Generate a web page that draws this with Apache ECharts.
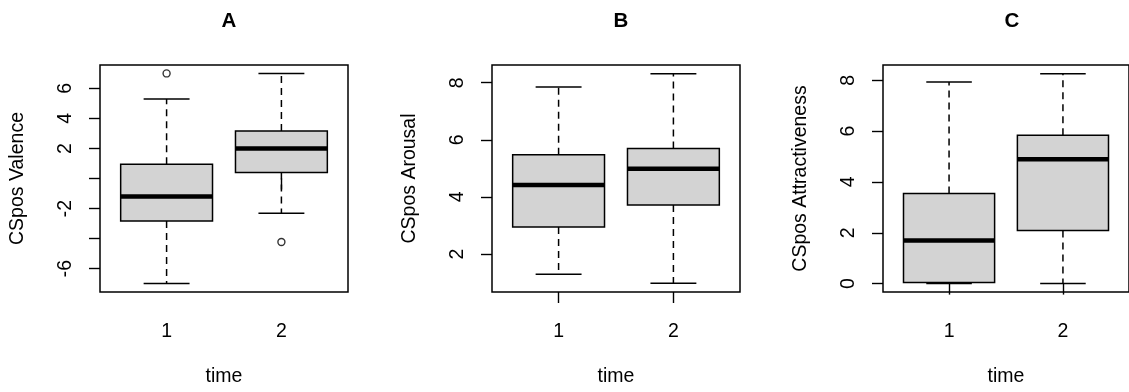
<!DOCTYPE html>
<html>
<head>
<meta charset="utf-8">
<script src="https://cdn.jsdelivr.net/npm/echarts@6/dist/echarts.min.js"></script>
<style>
html,body{margin:0;padding:0;background:#fff;}
#chart{width:1129px;height:392px;}
</style>
</head>
<body>
<div id="chart"></div>
<script>
// ---- data ----
const panelTitles = ['A', 'B', 'C'];
const xCategories = [1, 2];
const xLabel = 'time';
const yNames = ['CSpos Valence', 'CSpos Arousal', 'CSpos Attractiveness'];
// [min whisker, Q1, median, Q3, max whisker]
const valenceStats = [[-7.0, -2.83, -1.2, 0.95, 5.29], [-2.31, 0.4, 2.0, 3.17, 7.0]];
const valenceOutliers = [[1, 7.0], [2, -4.23]];
const arousalStats = [[1.29, 2.95, 4.42, 5.48, 7.85], [0.98, 3.72, 4.99, 5.70, 8.31]];
const arousalOutliers = [];
const attractStats = [[0.0, 0.04, 1.70, 3.54, 7.93], [0.0, 2.09, 4.89, 5.84, 8.26]];
const attractOutliers = [];
const valenceTicks = [-6, -4, -2, 0, 2, 4, 6];
const valenceTickLabels = [-6, -2, 2, 4, 6];
const arousalTicks = [2, 4, 6, 8];
const attractTicks = [0, 2, 4, 6, 8];

// ---- layout ----
const FONT = 'Liberation Sans, Arial, sans-serif';
const panels = [
  { left: 100, yMin: -7.56, yMax: 7.56, stats: valenceStats, outliers: valenceOutliers, ticks: valenceTicks, labels: valenceTickLabels },
  { left: 492, yMin: 0.67, yMax: 8.62, stats: arousalStats, outliers: arousalOutliers, ticks: arousalTicks, labels: arousalTicks },
  { left: 883, yMin: -0.33, yMax: 8.60, stats: attractStats, outliers: attractOutliers, ticks: attractTicks, labels: attractTicks }
];
const GRID_W = 248, GRID_TOP = 65, GRID_H = 228;
const FS = 19.5;

const grids = [], xAxes = [], yAxes = [], series = [], titles = [];
panels.forEach((p, i) => {
  grids.push({ left: p.left, top: GRID_TOP, width: GRID_W, height: GRID_H, show: true,
    borderColor: '#000', borderWidth: 1.5, backgroundColor: '#fff', containLabel: false });
  titles.push({ text: panelTitles[i], left: p.left + GRID_W / 2, top: 6, textAlign: 'center',
    textStyle: { fontFamily: FONT, fontWeight: 'bold', fontSize: 20.5, color: '#000' } });
  xAxes.push({ type: 'value', gridIndex: i, min: 0.42, max: 2.58,
    name: xLabel, nameLocation: 'middle', nameGap: 75,
    nameTextStyle: { fontFamily: FONT, fontSize: FS, color: '#000' },
    axisLine: { show: false }, splitLine: { show: false },
    axisTick: { show: true, length: 11, customValues: xCategories, lineStyle: { color: '#000', width: 1.4 } },
    axisLabel: { customValues: xCategories, margin: 30, fontFamily: FONT, fontSize: FS, color: '#000',
      formatter: v => String(v) } });
  yAxes.push({ type: 'value', gridIndex: i, min: p.yMin, max: p.yMax,
    name: yNames[i], nameLocation: 'middle', nameGap: 72, nameRotate: 90,
    nameTextStyle: { fontFamily: FONT, fontSize: FS, color: '#000' },
    axisLine: { show: false }, splitLine: { show: false },
    axisTick: { show: true, length: 11, customValues: p.ticks, lineStyle: { color: '#000', width: 1.4 } },
    axisLabel: { customValues: p.labels, rotate: 90, margin: 24, fontFamily: FONT, fontSize: FS, color: '#000',
      formatter: v => String(v) } });
  series.push({
    type: 'custom', xAxisIndex: i, yAxisIndex: i,
    encode: { x: 0, y: [1, 2, 3, 4, 5] },
    data: p.stats.map((s, k) => [xCategories[k]].concat(s)),
    renderItem: function (params, api) {
      const x = api.value(0);
      const lo = api.coord([x, api.value(1)]);
      const q1 = api.coord([x, api.value(2)]);
      const md = api.coord([x, api.value(3)]);
      const q3 = api.coord([x, api.value(4)]);
      const hi = api.coord([x, api.value(5)]);
      const half = api.size([0.8, 0])[0] / 2;
      const sh = half / 2;
      const cx = md[0];
      const dash = { stroke: '#000', lineWidth: 1.5, lineDash: [7, 5] };
      const solid = { stroke: '#000', lineWidth: 1.5 };
      return { type: 'group', children: [
        { type: 'line', shape: { x1: cx, y1: q1[1], x2: cx, y2: lo[1] }, style: dash },
        { type: 'line', shape: { x1: cx, y1: q3[1], x2: cx, y2: hi[1] }, style: dash },
        { type: 'line', shape: { x1: cx - sh, y1: lo[1], x2: cx + sh, y2: lo[1] }, style: solid },
        { type: 'line', shape: { x1: cx - sh, y1: hi[1], x2: cx + sh, y2: hi[1] }, style: solid },
        { type: 'rect', shape: { x: cx - half, y: q3[1], width: 2 * half, height: q1[1] - q3[1] },
          style: { fill: '#d3d3d3', stroke: '#000', lineWidth: 1.5 } },
        { type: 'line', shape: { x1: cx - half, y1: md[1], x2: cx + half, y2: md[1] },
          style: { stroke: '#000', lineWidth: 4.5 } }
      ] };
    }
  });
  if (p.outliers.length) {
    series.push({ type: 'scatter', xAxisIndex: i, yAxisIndex: i, data: p.outliers,
      symbol: 'circle', symbolSize: 7,
      itemStyle: { color: '#fff', borderColor: '#000', borderWidth: 1.4 } });
  }
});

const chart = echarts.init(document.getElementById('chart'), null, { renderer: 'canvas' });
chart.setOption({
  animation: false,
  backgroundColor: '#fff',
  title: titles,
  grid: grids,
  xAxis: xAxes,
  yAxis: yAxes,
  series: series
});
</script>
</body>
</html>
